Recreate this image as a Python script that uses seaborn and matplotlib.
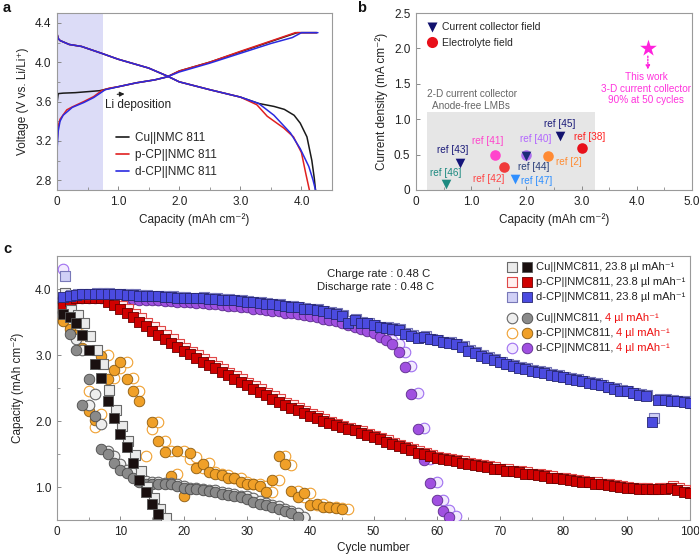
import numpy as np
import matplotlib
matplotlib.use("Agg")
import matplotlib.pyplot as plt
import seaborn as sns
from matplotlib.patches import Rectangle
from matplotlib.lines import Line2D
from matplotlib.ticker import MultipleLocator

sns.set_theme(style="white")
plt.rcParams["font.family"] = ["Liberation Sans", "DejaVu Sans"]

# ---------------- panel a : voltage profiles ----------------
cells_a = ["Cu||NMC 811", "p-CP||NMC 811", "d-CP||NMC 811"]
colors_a = ["#1a1a1a", "#e02020", "#2a2ae0"]
cu_chg_x = [0, 0.004, 0.02, 0.1, 0.3, 0.5, 0.7, 0.8, 1.0, 1.3, 1.6, 1.8, 2.0, 2.5, 3.0, 3.5, 3.93, 4.25]
cu_chg_y = [3.30, 3.60, 3.68, 3.685, 3.69, 3.70, 3.71, 3.725, 3.75, 3.79, 3.82, 3.85, 3.91, 4.00, 4.105, 4.21, 4.30, 4.30]
p_chg_x = [0, 0.02, 0.05, 0.16, 0.25, 0.44, 0.6, 0.73, 0.85, 1.0, 1.3, 1.6, 1.8, 2.0, 2.5, 3.0, 3.5, 3.90, 4.25]
p_chg_y = [3.18, 3.35, 3.42, 3.515, 3.545, 3.60, 3.65, 3.71, 3.735, 3.75, 3.79, 3.82, 3.85, 3.91, 4.00, 4.11, 4.215, 4.30, 4.30]
d_chg_x = [0, 0.02, 0.05, 0.1, 0.25, 0.44, 0.6, 0.79, 1.0, 1.3, 1.6, 1.8, 2.0, 2.5, 3.0, 3.5, 3.85, 4.0, 4.27]
d_chg_y = [3.10, 3.30, 3.40, 3.46, 3.54, 3.59, 3.64, 3.72, 3.75, 3.79, 3.82, 3.85, 3.90, 3.99, 4.09, 4.19, 4.25, 4.30, 4.30]
dis_common_x = [0, 0.02, 0.05, 0.2, 0.4, 0.73, 1.0, 1.5, 1.8, 2.0, 2.5, 3.0, 3.3]
dis_common_y = [4.29, 4.24, 4.22, 4.18, 4.16, 4.09, 4.03, 3.94, 3.86, 3.80, 3.72, 3.645, 3.58]
cu_dis_x = dis_common_x + [3.55, 3.72, 3.88, 3.98, 4.09, 4.17, 4.21, 4.23]
cu_dis_y = dis_common_y + [3.55, 3.52, 3.46, 3.38, 3.24, 3.00, 2.82, 2.70]
p_dis_x = dis_common_x[:-1] + [3.27, 3.44, 3.71, 3.87, 4.00, 4.07, 4.13]
p_dis_y = dis_common_y[:-1] + [3.567, 3.45, 3.33, 3.24, 3.08, 2.87, 2.70]
d_dis_x = dis_common_x + [3.55, 3.82, 3.98, 4.12, 4.19, 4.23]
d_dis_y = dis_common_y + [3.46, 3.28, 3.12, 2.94, 2.80, 2.70]

# ---------------- panel b : literature comparison ----------------
ref_names = ["ref [46]", "ref [43]", "ref [41]", "ref [42]", "ref [47]",
             "ref [40]", "ref [44]", "ref [2]", "ref [45]", "ref [38]"]
ref_capacity = [0.55, 0.80, 1.43, 1.60, 1.79, 2.00, 2.00, 2.40, 2.60, 3.00]
ref_current = [0.09, 0.38, 0.50, 0.32, 0.16, 0.50, 0.48, 0.48, 0.76, 0.60]
ref_field = ["cc", "cc", "el", "el", "cc", "el", "cc", "el", "cc", "el"]
ref_colors = ["#1d8a80", "#15157a", "#ff44cc", "#f03a3a", "#2f8fff",
              "#b070f0", "#1c2c78", "#ff8a33", "#12126e", "#e8101a"]
ref_label_colors = ["#1d8a80", "#1c1c7a", "#ff44cc", "#ff4545", "#2f8fff",
                    "#b266ff", "#2a3f7a", "#ff8c33", "#1c1c7a", "#ff2020"]
this_work_capacity = [4.2]
this_work_current = [2.0]

# ---------------- panel c : cycling ----------------
cu_dis = [3.62, 3.58, 3.48, 3.30, 3.08, 2.86, 2.65, 2.30, 2.05, 1.81, 1.60, 1.37, 1.10, 0.92, 0.75, 0.59]
cu_chg = [3.94, 3.68, 3.60, 3.48, 3.29, 3.08, 2.87, 2.47, 2.16, 1.92, 1.70, 1.48, 1.24, 1.00, 0.83, 0.67, 0.53]
pcp_dis = [3.74, 3.82, 3.86, 3.87, 3.87, 3.87, 3.86, 3.81, 3.76, 3.70,
           3.63, 3.57, 3.50, 3.44, 3.37, 3.31, 3.25, 3.18, 3.12, 3.06,
           3.01, 2.95, 2.90, 2.85, 2.80, 2.74, 2.69, 2.64, 2.59, 2.54,
           2.49, 2.44, 2.39, 2.34, 2.29, 2.25, 2.20, 2.16, 2.12, 2.08,
           2.04, 2.00, 1.97, 1.94, 1.91, 1.88, 1.86, 1.82, 1.79, 1.76,
           1.72, 1.68, 1.65, 1.62, 1.59, 1.56, 1.52, 1.50, 1.47, 1.44,
           1.42, 1.41, 1.39, 1.37, 1.35, 1.33, 1.32, 1.30, 1.28, 1.27,
           1.25, 1.24, 1.22, 1.20, 1.19, 1.18, 1.16, 1.14, 1.13, 1.12,
           1.11, 1.09, 1.08, 1.07, 1.05, 1.04, 1.03, 1.01, 1.00, 0.99,
           0.98, 0.97, 0.97, 0.97, 0.97, 0.97, 0.99, 0.95, 0.92, 0.91]
pcp_chg = [3.80, 3.84, 3.87, 3.88, 3.88, 3.88, 3.88, 3.85, 3.80, 3.75,
           3.69, 3.62, 3.56, 3.49, 3.43, 3.36, 3.30, 3.24, 3.17, 3.11,
           3.05, 3.00, 2.94, 2.89, 2.84, 2.79, 2.73, 2.68, 2.63, 2.58,
           2.53, 2.48, 2.43, 2.38, 2.33, 2.28, 2.24, 2.19, 2.15, 2.11,
           2.07, 2.03, 1.99, 1.96, 1.93, 1.90, 1.87, 1.85, 1.81, 1.78,
           1.75, 1.71, 1.67, 1.64, 1.61, 1.58, 1.55, 1.52, 1.49, 1.46,
           1.44, 1.42, 1.41, 1.39, 1.37, 1.35, 1.33, 1.32, 1.30, 1.28,
           1.27, 1.25, 1.24, 1.22, 1.20, 1.19, 1.18, 1.16, 1.14, 1.13,
           1.12, 1.11, 1.09, 1.08, 1.07, 1.05, 1.04, 1.03, 1.01, 1.00,
           0.99, 0.98, 0.98, 0.97, 0.99, 0.98, 1.01, 0.98, 0.95, 0.93]
dcp_dis = [3.88, 3.90, 3.91, 3.92, 3.92, 3.93, 3.93, 3.93, 3.92, 3.92,
           3.91, 3.91, 3.90, 3.90, 3.89, 3.89, 3.88, 3.88, 3.87, 3.87,
           3.86, 3.86, 3.87, 3.85, 3.85, 3.84, 3.84, 3.83, 3.82, 3.81,
           3.80, 3.79, 3.78, 3.77, 3.76, 3.74, 3.73, 3.72, 3.70, 3.69,
           3.68, 3.66, 3.64, 3.62, 3.59, 3.49, 3.53, 3.49, 3.48, 3.45,
           3.42, 3.41, 3.40, 3.38, 3.32, 3.29, 3.26, 3.28, 3.24, 3.22,
           3.19, 3.18, 3.16, 3.12, 3.06, 3.03, 2.99, 2.96, 2.93, 2.89,
           2.86, 2.84, 2.81, 2.79, 2.76, 2.75, 2.73, 2.70, 2.68, 2.66,
           2.64, 2.62, 2.60, 2.58, 2.56, 2.54, 2.51, 2.49, 2.46, 2.45,
           2.42, 2.40, 2.38, 1.99, 2.32, 2.32, 2.31, 2.30, 2.29, 2.27]
dcp_chg = [4.20, 3.91, 3.92, 3.93, 3.93, 3.94, 3.94, 3.94, 3.93, 3.93,
           3.92, 3.92, 3.91, 3.91, 3.90, 3.90, 3.89, 3.89, 3.88, 3.88,
           3.87, 3.87, 3.88, 3.86, 3.86, 3.85, 3.85, 3.84, 3.83, 3.82,
           3.81, 3.80, 3.79, 3.78, 3.77, 3.75, 3.74, 3.73, 3.71, 3.70,
           3.69, 3.67, 3.65, 3.63, 3.60, 3.51, 3.54, 3.50, 3.49, 3.46,
           3.43, 3.42, 3.41, 3.39, 3.33, 3.30, 3.27, 3.29, 3.25, 3.23,
           3.20, 3.19, 3.17, 3.13, 3.07, 3.04, 3.00, 2.97, 2.94, 2.90,
           2.87, 2.85, 2.82, 2.80, 2.77, 2.76, 2.74, 2.71, 2.69, 2.67,
           2.65, 2.63, 2.61, 2.59, 2.57, 2.55, 2.52, 2.50, 2.47, 2.46,
           2.43, 2.41, 2.39, 2.05, 2.33, 2.33, 2.32, 2.31, 2.30, 2.28]
cu4_dis = [3.65, 3.32, 3.08, 2.24, 2.63, 2.08, 1.57, 1.50, 1.36, 1.26,
           1.21, 1.13, 1.08, 1.05, 1.05, 1.05, 1.05, 1.04, 1.01, 0.98,
           0.97, 0.97, 0.95, 0.94, 0.92, 0.90, 0.88, 0.86, 0.85, 0.82,
           0.78, 0.75, 0.72, 0.70, 0.66, 0.63, 0.60, 0.55]
cu4_chg = [3.80, 3.62, 3.24, 3.08, 2.25, 2.41, 1.96, 1.55, 1.47, 1.35,
           1.26, 1.21, 1.13, 1.09, 1.08, 1.07, 1.06, 1.06, 1.05, 1.02,
           0.99, 0.98, 0.97, 0.96, 0.95, 0.93, 0.91, 0.89, 0.87, 0.86,
           0.83, 0.79, 0.76, 0.73, 0.71, 0.67, 0.64, 0.61, 0.55]
pcp4_dis = [3.52, 3.40, 3.30, 3.10, 2.15, 2.02, 2.98, 2.63, 2.78, 2.89,
            2.64, 2.45, 2.31, np.nan, 1.98, 1.70, 1.53, 1.16, 1.55, 0.86,
            1.51, 1.29, 1.35, 1.22, 1.20, 1.18, 1.14, 1.14, 1.07, 1.05,
            1.05, 1.02, 0.93, 1.10, 1.47, 1.35, 0.94, 0.85, 0.91, 0.72,
            0.74, 0.70, 0.69, 0.68, 0.67]
pcp4_chg = [3.55, 3.45, 3.40, 3.30, 2.46, 1.91, 2.10, 3.00, 2.65, 2.80,
            2.90, 2.65, 2.45, 1.47, 1.88, 1.98, 1.70, 1.55, 1.20, 1.55,
            1.43, 1.45, 1.29, 1.36, 1.22, 1.20, 1.18, 1.14, 1.14, 1.07,
            1.05, 1.05, 1.02, 0.93, 1.10, 1.47, 1.34, 0.94, 0.85, 0.91,
            0.72, 0.74, 0.70, 0.69, 0.68, 0.67]
dcp4_dis = [3.86, 3.87, 3.87, 3.87, 3.87, 3.87, 3.87, 3.87, 3.86, 3.86,
            3.85, 3.85, 3.84, 3.84, 3.83, 3.83, 3.82, 3.82, 3.81, 3.80,
            3.80, 3.79, 3.79, 3.78, 3.77, 3.76, 3.75, 3.74, 3.73, 3.72,
            3.70, 3.69, 3.68, 3.67, 3.66, 3.64, 3.63, 3.62, 3.60, 3.59,
            3.57, 3.55, 3.53, 3.51, 3.48, 3.45, 3.42, 3.39, 3.37, 3.33,
            3.28, 3.22, 3.16, 3.04, 2.82, 2.41, 1.88, 1.41, 1.06, 0.80,
            0.64, 0.55]
dcp4_chg = [4.30, 3.88, 3.88, 3.88, 3.88, 3.88, 3.88, 3.88, 3.88, 3.87,
            3.87, 3.86, 3.86, 3.85, 3.85, 3.84, 3.84, 3.83, 3.83, 3.82,
            3.81, 3.81, 3.80, 3.80, 3.79, 3.78, 3.77, 3.76, 3.75, 3.74,
            3.73, 3.71, 3.70, 3.69, 3.68, 3.67, 3.65, 3.64, 3.63, 3.61,
            3.60, 3.58, 3.56, 3.54, 3.52, 3.49, 3.46, 3.43, 3.40, 3.38,
            3.34, 3.29, 3.23, 3.17, 3.05, 2.83, 2.42, 1.89, 1.42, 1.07,
            0.81, 0.65, 0.56]
legend_c_names = ["Cu||NMC811, ", "p-CP||NMC811, ", "d-CP||NMC811, "]
legend_c_suffix = ["23.8 µl mAh\u207b\u00b9", "4 µl mAh\u207b\u00b9"]

# ================= figure =================
W, H = 699, 560
fig = plt.figure(figsize=(W / 100, H / 100), dpi=100)


def axes_px(l, t, r, b):
    return fig.add_axes([l / W, 1 - b / H, (r - l) / W, (b - t) / H])


def style(ax):
    for s in ax.spines.values():
        s.set_color("#9a9a9a")
        s.set_linewidth(0.8)
    ax.tick_params(which="both", direction="in", color="#8a8a8a", labelsize=8.5,
                   labelcolor="#222222", bottom=True, left=True, top=False, right=False)
    ax.tick_params(which="major", length=3, width=0.7, pad=4)
    ax.tick_params(which="minor", length=2, width=0.6)


TXT = "#222222"
LS = 8.5
BS = 7.2

# ---------- a ----------
axa = axes_px(57, 13, 332, 190)
axa.axvspan(0, 0.75, color="#dcdcf7", lw=0, zorder=0)
curves = [(cu_chg_x, cu_chg_y, cu_dis_x, cu_dis_y),
          (p_chg_x, p_chg_y, p_dis_x, p_dis_y),
          (d_chg_x, d_chg_y, d_dis_x, d_dis_y)]
for (cx, cy, dx, dy), col in zip(curves, colors_a):
    sns.lineplot(x=cx, y=cy, sort=False, estimator=None, color=col, lw=1.1, ax=axa)
    sns.lineplot(x=dx, y=dy, sort=False, estimator=None, color=col, lw=1.1, ax=axa)
axa.set_xlim(0, 4.5)
axa.set_ylim(2.7, 4.5)
axa.set_xticks([0, 1, 2, 3, 4], ["0", "1.0", "2.0", "3.0", "4.0"])
axa.set_yticks([2.8, 3.2, 3.6, 4.0, 4.4], ["2.8", "3.2", "3.6", "4.0", "4.4"])
axa.xaxis.set_minor_locator(MultipleLocator(0.5))
axa.yaxis.set_minor_locator(MultipleLocator(0.2))
style(axa)
axa.set_xlabel("Capacity (mAh cm\u207b\u00b2)", fontsize=LS, color=TXT, labelpad=4)
axa.set_ylabel("Voltage (V vs. Li/Li\u207a)", fontsize=LS, color=TXT, labelpad=4)
handles = [Line2D([], [], color=c, lw=1.2) for c in colors_a]
axa.legend(handles, cells_a, loc="upper left", bbox_to_anchor=(0.175, 0.385), frameon=False,
           fontsize=LS, handlelength=1.1, handletextpad=0.5, labelspacing=0.42)
axa.annotate("", xy=(1.15, 3.678), xytext=(0.94, 3.672),
             arrowprops=dict(arrowstyle="-|>", color="#222", lw=0.8, mutation_scale=7))
axa.text(0.78, 3.56, "Li deposition", fontsize=LS, color=TXT, va="center")

# ---------- b ----------
axb = axes_px(416, 13, 692, 190)
axb.add_patch(Rectangle((0.2, 0), 3.05, 1.1, color="#e6e6e6", lw=0, zorder=0))
label_offsets_px = [(-1, 11), (-7, 13), (-7, 14), (-16, -12), (22, -2),
                    (9, 16), (7, -11), (20, -6), (0, 12), (8, 11)]
for kind in ["el", "cc"]:
    for i in range(len(ref_names)):
        if ref_field[i] != kind:
            continue
        sns.scatterplot(x=[ref_capacity[i]], y=[ref_current[i]],
                        marker="v" if kind == "cc" else "o",
                        s=48 if kind == "cc" else 58, color=ref_colors[i],
                        linewidth=0, ax=axb, zorder=3)
for i in range(len(ref_names)):
    ox, oy = label_offsets_px[i]
    axb.annotate(ref_names[i], (ref_capacity[i], ref_current[i]),
                 xytext=(ox * 0.72, oy * 0.72), textcoords="offset points",
                 ha="center", va="center", fontsize=BS, color=ref_label_colors[i])
sns.scatterplot(x=this_work_capacity, y=this_work_current, marker="*", s=160,
                color="#ff22dd", linewidth=0, ax=axb, zorder=3)
axb.annotate("", xy=(4.2, 1.66), xytext=(4.2, 1.93),
             arrowprops=dict(arrowstyle="-|>", linestyle=(0, (1, 1.2)), color="#ff22dd",
                             lw=1.0, mutation_scale=6))
for yy, t in zip([1.59, 1.43, 1.27], ["This work", "3-D current collector", "90% at 50 cycles"]):
    axb.text(4.17, yy, t, ha="center", va="center", fontsize=BS, color="#ff33dd")
axb.text(1.02, 1.35, "2-D current collector", ha="center", va="center", fontsize=BS, color="#666666")
axb.text(0.99, 1.18, "Anode-free LMBs", ha="center", va="center", fontsize=BS, color="#666666")
axb.set_xlim(0, 5)
axb.set_ylim(0, 2.5)
axb.set_xticks([0, 1, 2, 3, 4, 5], ["0", "1.0", "2.0", "3.0", "4.0", "5.0"])
axb.set_yticks([0, 0.5, 1.0, 1.5, 2.0, 2.5], ["0", "0.5", "1.0", "1.5", "2.0", "2.5"])
axb.xaxis.set_minor_locator(MultipleLocator(0.5))
style(axb)
axb.set_xlabel("Capacity (mAh cm\u207b\u00b2)", fontsize=LS, color=TXT, labelpad=4)
axb.set_ylabel("Current density (mA cm\u207b\u00b2)", fontsize=LS, color=TXT, labelpad=4)
hb = [Line2D([], [], ls="", marker="v", ms=7.5, color="#12126e", mec="none"),
      Line2D([], [], ls="", marker="o", ms=8, color="#e8101a", mec="none")]
axb.legend(hb, ["Current collector field", "Electrolyte field"], loc="upper left",
           bbox_to_anchor=(0.0, 1.0), frameon=False, fontsize=BS + 0.3, handletextpad=0.4,
           labelspacing=0.5, borderaxespad=0.5, handlelength=1.2)

# ---------- c ----------
axc = axes_px(57, 256, 690, 520)
sq = 46
ci = 58
series_c = [
    # values charge, values discharge, marker, size, open face, open edge, fill, fill edge, dx
    (pcp4_chg, pcp4_dis, "o", ci, "#ffffff", "#f0a030", "#f0a028", "#8a5a10", 0.0),
    (cu4_chg, cu4_dis, "o", ci, "#eeeeee", "#666666", "#8a8a8a", "#4a4a4a", 0.0),
    (dcp4_chg, dcp4_dis, "o", ci, "#f2eaff", "#a070f0", "#a050e0", "#5a2a8a", 0.0),
    (pcp_chg, pcp_dis, "s", sq, "#fff0f0", "#e04848", "#d00000", "#6a0000", 0.25),
    (cu_chg, cu_dis, "s", sq, "#ebebeb", "#6a6a6a", "#1a1010", "#555555", 0.25),
    (dcp_chg, dcp_dis, "s", sq, "#d0d0f6", "#7878b8", "#4b4be0", "#252570", 0.25),
]
z = 3
for chg, dis, mk, s, of, oe, ff, fe, dx in series_c:
    cyc_c = np.arange(1, len(chg) + 1) + dx
    cyc_d = np.arange(1, len(dis) + 1)
    sns.scatterplot(x=cyc_c, y=chg, marker=mk, s=s, color=of, edgecolor=oe,
                    linewidth=0.8, ax=axc, zorder=z)
    sns.scatterplot(x=cyc_d, y=dis, marker=mk, s=s, color=ff, edgecolor=fe,
                    linewidth=0.6, ax=axc, zorder=z + 1)
    z += 2
axc.set_xlim(0, 100)
axc.set_ylim(0.5, 4.5)
axc.set_xticks(range(0, 101, 10), [str(v) for v in range(0, 101, 10)])
axc.set_yticks([1, 2, 3, 4], ["1.0", "2.0", "3.0", "4.0"])
axc.xaxis.set_minor_locator(MultipleLocator(5))
axc.yaxis.set_minor_locator(MultipleLocator(0.5))
style(axc)
axc.set_xlabel("Cycle number", fontsize=LS, color=TXT, labelpad=3)
axc.set_ylabel("Capacity (mAh cm\u207b\u00b2)", fontsize=LS, color=TXT, labelpad=8)
axc.text(0.508, 0.93, "Charge rate : 0.48 C", transform=axc.transAxes, ha="center",
         va="center", fontsize=8.2, color=TXT)
axc.text(0.503, 0.882, "Discharge rate : 0.48 C", transform=axc.transAxes, ha="center",
         va="center", fontsize=8.2, color=TXT)

# legend of c (glyphs in axes coordinates)
rows_y = [0.959, 0.902, 0.845, 0.765, 0.708, 0.652]
leg_styles = [series_c[4], series_c[3], series_c[5], series_c[1], series_c[0], series_c[2]]
x_open, x_fill, x_text = 0.719, 0.742, 0.756
LC = 8.0
fig.canvas.draw()
rend = fig.canvas.get_renderer()
for k, (yy, st) in enumerate(zip(rows_y, leg_styles)):
    _, _, mk, s, of, oe, ff, fe, _ = st
    axc.scatter([x_open], [yy], transform=axc.transAxes, marker=mk, s=s, color=of,
                edgecolor=oe, linewidth=0.8, clip_on=False, zorder=20)
    axc.scatter([x_fill], [yy], transform=axc.transAxes, marker=mk, s=s, color=ff,
                edgecolor=fe, linewidth=0.6, clip_on=False, zorder=20)
    t = axc.text(x_text, yy, legend_c_names[k % 3], transform=axc.transAxes, ha="left",
                 va="center", fontsize=LC, color=TXT, zorder=20)
    bb = t.get_window_extent(renderer=rend)
    xe = axc.transAxes.inverted().transform((bb.x1, bb.y0))[0]
    if k < 3:
        axc.text(xe, yy, legend_c_suffix[0], transform=axc.transAxes, ha="left",
                 va="center", fontsize=LC, color=TXT, zorder=20)
    else:
        axc.text(xe, yy, legend_c_suffix[1], transform=axc.transAxes, ha="left",
                 va="center", fontsize=LC, color="#ee1111", zorder=20)

for lab, (px, py) in zip(["a", "b", "c"], [(3, 8), (357, 8), (3, 249)]):
    fig.text(px / W, 1 - py / H, lab, fontsize=10.5, fontweight="bold", va="center",
             ha="left", color="#111111")

fig.savefig("out.png", dpi=100)
